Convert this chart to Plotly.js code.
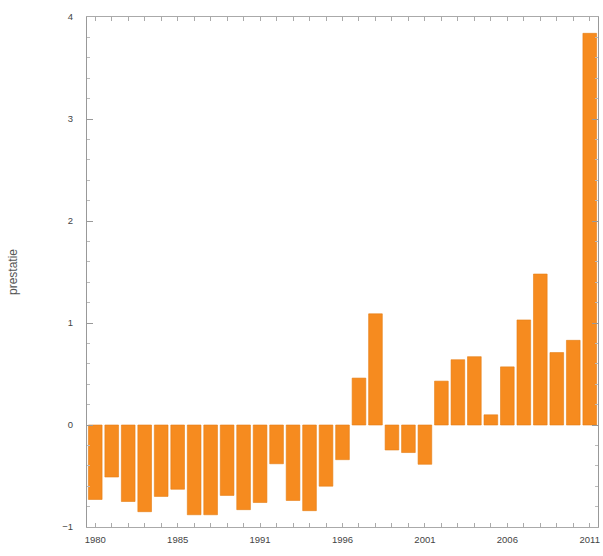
<!DOCTYPE html>
<html>
<head>
<meta charset="utf-8">
<script src="https://cdn.plot.ly/plotly-3.0.1.min.js"></script>
<style>html,body{margin:0;padding:0;background:#fff;}#chart{width:603px;height:556px;}</style>
</head>
<body>
<div id="chart"></div>
<script>
const years = ['1980','1981','1982','1983','1984','1985','1986','1987','1988','1989',
  '1991','1992','1993','1994','1995','1996','1997','1998','1999','2000',
  '2001','2002','2003','2004','2005','2006','2007','2008','2009','2010','2011'];
const prestatie = [-0.73,-0.51,-0.75,-0.85,-0.70,-0.63,-0.88,-0.88,-0.69,-0.83,
  -0.76,-0.38,-0.74,-0.84,-0.60,-0.34,0.46,1.09,-0.245,-0.27,
  -0.385,0.43,0.64,0.67,0.10,0.57,1.03,1.48,0.71,0.83,3.84];
const labeledYears = ['1980','1985','1991','1996','2001','2006','2011'];
const yTitle = 'prestatie';

const trace = {
  type: 'bar',
  x: years,
  y: prestatie,
  marker: {color: '#F68B1F', line: {color: '#E57D14', width: 0.6}},
  hoverinfo: 'x+y'
};

const layout = {
  width: 603, height: 556,
  margin: {l: 87, r: 5, t: 17, b: 29},
  paper_bgcolor: '#fff', plot_bgcolor: '#fff',
  bargap: 0.17,
  showlegend: false,
  font: {family: 'Liberation Sans, Arial, sans-serif', size: 9, color: '#444'},
  xaxis: {
    type: 'category',
    range: [-0.5, years.length - 0.5],
    tickmode: 'array',
    tickvals: years,
    ticktext: years.map(y => labeledYears.includes(y) ? y : ''),
    ticks: 'inside', ticklen: 4, tickcolor: '#aaa', tickwidth: 1,
    showline: true, linecolor: '#aaa', linewidth: 1, mirror: 'ticks',
    showgrid: false, zeroline: false,
    tickfont: {size: 9.5, color: '#444'},
    ticklabelstandoff: 4
  },
  yaxis: {
    range: [-1, 4],
    tickmode: 'linear', tick0: 0, dtick: 1,
    ticks: 'inside', ticklen: 6, tickcolor: '#999', tickwidth: 1,
    minor: {dtick: 0.2, ticks: 'inside', ticklen: 3, tickcolor: '#bbb', showgrid: false},
    showline: true, linecolor: '#999', linewidth: 1, mirror: 'ticks',
    showgrid: false, zeroline: false,
    tickfont: {size: 9.5, color: '#444'},
    ticklabelstandoff: 11,
    title: {text: yTitle, font: {size: 12, color: '#555'}, standoff: 42}
  }
};

Plotly.newPlot('chart', [trace], layout, {displayModeBar: false, staticPlot: true});
</script>
</body>
</html>
